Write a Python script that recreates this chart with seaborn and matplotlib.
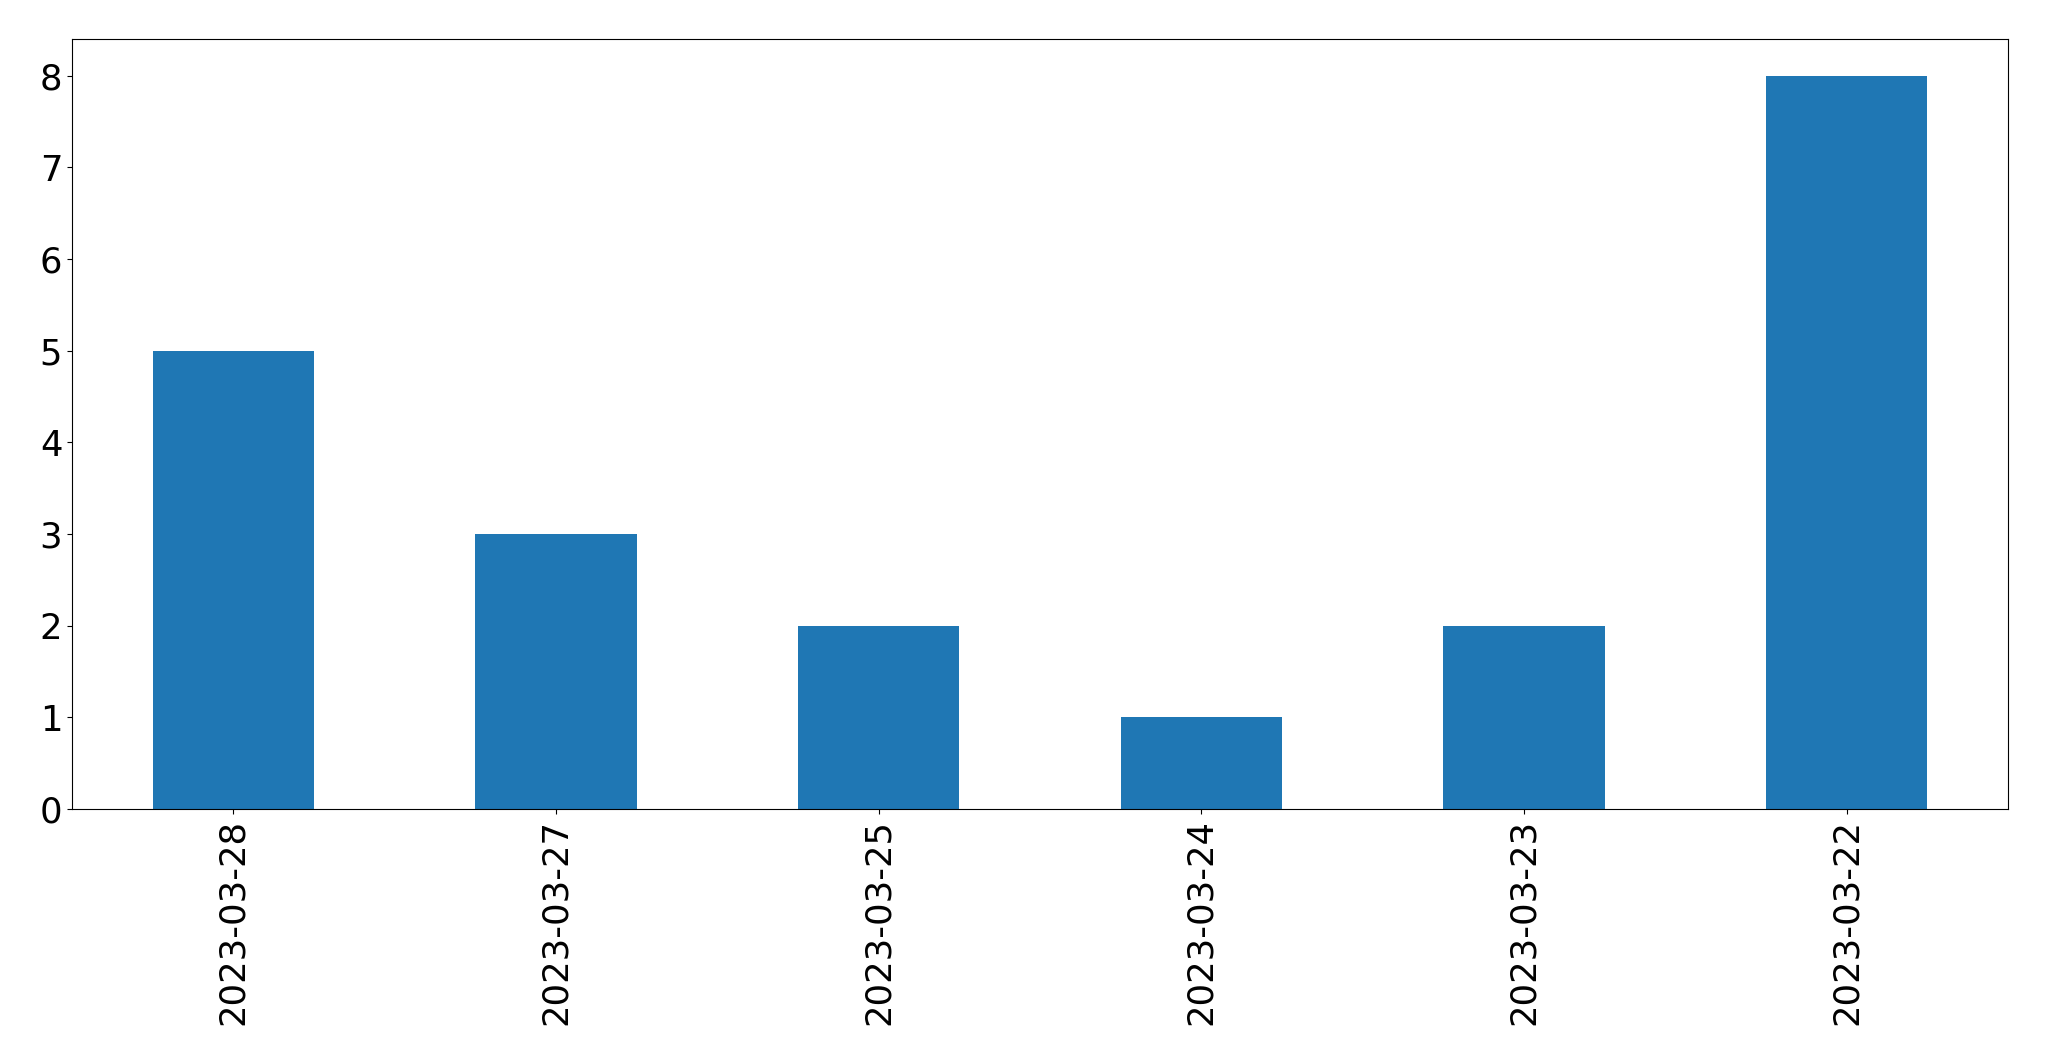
import numpy as np
import pandas as pd
import matplotlib
matplotlib.use('Agg')
import matplotlib.pyplot as plt
import seaborn as sns

dates = ['2023-03-28', '2023-03-27', '2023-03-25', '2023-03-24', '2023-03-23', '2023-03-22']
counts = [5, 3, 2, 1, 2, 8]

df = pd.DataFrame({'date': dates, 'count': counts})

plt.rcParams['font.family'] = ['DejaVu Sans']
fig, ax = plt.subplots(figsize=(20.49, 10.61), dpi=100)
fig.subplots_adjust(left=72/2049, right=2008/2049, top=1 - 39/1061, bottom=1 - 809/1061)

sns.barplot(data=df, x='date', y='count', order=dates, color='#1f77b4',
            saturation=1, width=0.5, ax=ax)

ax.set_xlim(-0.5, len(dates) - 0.5)
ax.set_ylim(0, 8.4)
ax.set_xlabel('')
ax.set_ylabel('')
ax.tick_params(axis='both', labelsize=25.5)
plt.setp(ax.get_xticklabels(), rotation=90)

fig.savefig('out.png', dpi=100)
